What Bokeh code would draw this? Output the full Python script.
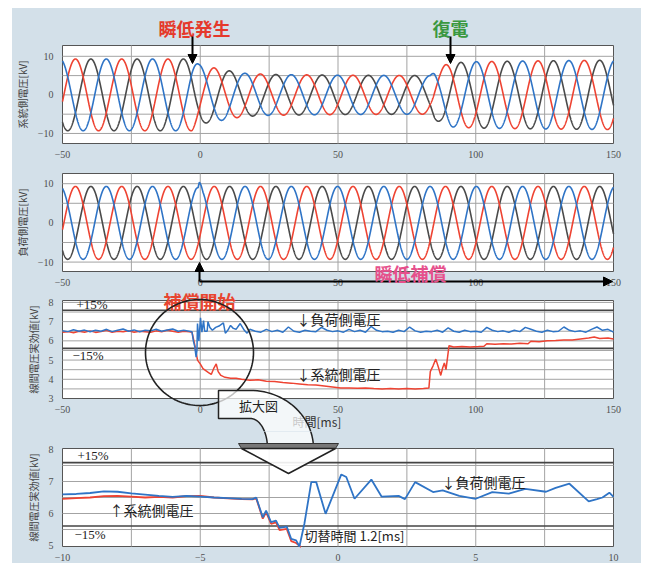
import re
import numpy as np
from bokeh.plotting import figure
from bokeh.models import (FixedTicker, Label, Arrow, NormalHead, PolyAnnotation, BoxAnnotation, Spacer)
from bokeh.layouts import column, row
from bokeh.embed import file_html
from bokeh.resources import INLINE

# ---------------- data ----------------
# three-phase waveforms (time in ms, voltage in kV)
PERIOD_MS = 16.79          # spacing of successive peaks of one phase
RED_PEAK_MS = -45.3        # first peak of the red phase
# system side: peak-voltage envelope (sag at ~-3 ms, recovery at ~84 ms)
sys_env_t = [-50, -3, -0.5, 2, 5, 10, 16, 25, 50, 83.5, 85, 87, 89, 91, 100, 120, 150]
sys_env_v = [9.3, 9.3, 7.9, 7.3, 7.0, 6.3, 5.6, 5.3, 5.1, 5.0, 6.5, 7.0, 7.8, 8.3, 8.6, 8.8, 9.0]
# load side: constant peak, small spike on the blue phase at switching
load_env_t = [-50, 150]
load_env_v = [9.3, 9.3]
load_blue_spike_t = [-1.5, -0.8, -0.3, 0.3, 1.0]
load_blue_spike_f = [1.0, 0.97, 1.12, 1.08, 1.0]

wave_xticks = [-50, 0, 50, 100, 150]
wave_yticks = [-10, 0, 10]

# RMS panel (-50..150 ms)
rms_load_t = [-50, -48, -46, -44, -42, -40, -38, -36, -34, -32, -30, -28, -26, -24, -22, -20,
              -18, -16, -14, -12, -10, -8, -6, -4, -3, -2.5, -2, -1.5, -1.2, -1, -0.5, 0.1,
              0.6, 1.2, 1.6, 2.5, 2.8, 3.5, 4.4, 5.6, 6.8, 8.4, 9.1, 10, 11, 12, 13, 14.5, 16,
              17, 18, 20, 22, 24, 26, 28, 30, 32, 34, 36, 38, 40, 42, 44, 46, 48, 50, 52, 54,
              56, 58, 60, 62, 64, 66, 68, 70, 72, 74, 76, 78, 80, 82, 84, 86, 88, 90, 92, 94,
              96, 98, 100, 102, 104, 106, 108, 110, 112, 114, 116, 118, 120, 122, 124, 126,
              128, 130, 132, 134, 136, 138, 140, 142, 144, 146, 148, 150]
rms_load_v = [6.52, 6.48, 6.58, 6.50, 6.56, 6.47, 6.55, 6.50, 6.60, 6.48, 6.55, 6.62, 6.50,
              6.57, 6.47, 6.55, 6.52, 6.60, 6.50, 6.56, 6.62, 6.50, 6.55, 6.50, 6.47, 6.0,
              5.7, 5.15, 5.5, 6.9, 6.0, 7.2, 6.45, 7.05, 6.5, 6.5, 7.0, 6.7, 6.55, 6.7, 6.77,
              6.93, 6.4, 6.55, 6.8, 6.65, 6.6, 6.9, 6.55, 6.4, 6.6, 6.5, 6.45, 6.6, 6.48,
              6.55, 6.45, 6.72, 6.5, 6.45, 6.55, 6.5, 6.48, 6.7, 6.55, 6.48, 6.52, 6.45, 6.6,
              6.48, 6.55, 6.45, 6.75, 6.55, 6.48, 6.5, 6.45, 6.55, 6.48, 6.72, 6.52, 6.45,
              6.5, 6.48, 6.55, 6.45, 6.68, 6.5, 6.45, 6.55, 6.48, 6.5, 6.45, 6.7, 6.55, 6.48,
              6.52, 6.45, 6.55, 6.48, 6.7, 6.6, 6.5, 6.45, 6.55, 6.48, 6.5, 6.72, 6.55, 6.48,
              6.52, 6.45, 6.6, 6.72, 6.55, 6.6, 6.45]
rms_sys_t = [-50, -48, -46, -44, -42, -40, -38, -36, -34, -32, -30, -28, -26, -24, -22, -20,
             -18, -16, -14, -12, -10, -8, -6, -4, -3, -2, -1.5, -1, 0, 1, 2, 3, 4, 5, 5.8,
             6.5, 7.5, 9, 11, 13, 15, 18, 21, 24, 27, 30, 33, 36, 39, 42, 45, 48, 51, 54, 57,
             60, 63, 66, 69, 72, 75, 78, 81, 83, 83.5, 84.5, 85.5, 86.5, 87.3, 88, 88.6, 89.2,
             90.3, 92, 95, 98, 101, 103, 104, 107, 110, 113, 116, 119, 120, 123, 126, 129,
             132, 135, 138, 141, 143, 145, 148, 150]
rms_sys_v = [6.45, 6.48, 6.42, 6.50, 6.45, 6.52, 6.44, 6.48, 6.55, 6.45, 6.50, 6.47, 6.52,
             6.45, 6.50, 6.48, 6.45, 6.52, 6.47, 6.55, 6.50, 6.45, 6.50, 6.47, 6.45, 5.8, 5.4,
             5.0, 4.8, 4.55, 4.45, 4.35, 4.25, 4.6, 4.8, 4.4, 4.2, 4.1, 4.05, 4.05, 4.0, 3.95,
             3.97, 3.9, 3.88, 3.83, 3.8, 3.76, 3.72, 3.7, 3.65, 3.6, 3.55, 3.55, 3.53, 3.55,
             3.52, 3.5, 3.52, 3.5, 3.52, 3.5, 3.52, 3.55, 4.4, 4.7, 5.05, 4.6, 4.2, 4.6, 4.85,
             4.5, 5.75, 5.68, 5.7, 5.68, 5.7, 5.72, 5.85, 5.82, 5.85, 5.83, 5.87, 5.85, 5.98,
             5.95, 6.0, 6.02, 6.05, 6.05, 6.1, 6.15, 6.2, 6.12, 6.15, 6.1]
rms_xticks = [-50, 0, 50, 100, 150]
rms_yticks = [3, 4, 5, 6, 7, 8]

# enlarged view (-10..10 ms)
zoom_load_t = [-10, -9.5, -9, -8.5, -8, -7.5, -7, -6.5, -6, -5.5, -5, -4.5, -4, -3.5, -3.1,
               -2.97, -2.73, -2.61, -2.43, -2.25, -2.12, -1.86, -1.70, -1.52, -1.40, -1.22,
               -0.97, -0.79, -0.45, 0.12, 0.30, 0.60, 1.21, 1.58, 2.20, 2.43, 2.80, 3.45,
               3.80, 4.40, 5.00, 5.60, 6.20, 6.80, 7.55, 7.90, 8.40, 9.10, 9.40, 9.60, 9.85, 10.0]
zoom_load_v = [6.60, 6.61, 6.64, 6.69, 6.68, 6.63, 6.59, 6.55, 6.52, 6.55, 6.53, 6.50, 6.48,
               6.46, 6.45, 6.50, 5.88, 6.09, 5.73, 5.78, 5.55, 5.59, 5.21, 5.16, 4.97, 5.68,
               6.98, 6.98, 5.99, 7.22, 7.14, 6.46, 7.06, 6.53, 6.55, 6.45, 6.98, 6.67, 6.72,
               6.55, 6.46, 6.67, 6.62, 6.77, 6.68, 6.80, 6.93, 6.38, 6.45, 6.50, 6.65, 6.52]
zoom_sys_t = [-10, -9.5, -9, -8.5, -8, -7.5, -7, -6.5, -6, -5.5, -5, -4.5, -4, -3.5, -3.1,
              -2.97, -2.73, -2.61, -2.43, -2.25, -2.12, -1.86, -1.70, -1.52, -1.34]
zoom_sys_v = [6.46, 6.48, 6.50, 6.54, 6.55, 6.53, 6.50, 6.52, 6.50, 6.54, 6.55, 6.50, 6.47,
              6.45, 6.44, 6.48, 5.84, 6.04, 5.68, 5.72, 5.48, 5.52, 5.14, 5.08, 4.95]
zoom_xticks = [-10, -5, 0, 5, 10]
zoom_yticks = [5, 6, 7, 8]

NOMINAL_KV = 6.6
TOLERANCE = 0.15

# ---------------- styling / geometry ----------------
BG = "#d3e0e9"
RED = "#ee4332"
BLUE = "#2f74c6"
BLACK = "#4a4a4a"
GRID = "#a3a3a3"
JP = "Noto Sans CJK JP"
SERIF = "Liberation Serif"

CANVAS_L, CANVAS_W = 12, 629      # page x of the blue card and its width
PANEL_L, PANEL_R = 62, 613        # page x of the plot panels' frames


class Panel:
    """A figure whose frame covers its whole canvas; the white plot panel is drawn inside."""

    def __init__(self, top, height, ptop, pbottom, xr, yr, xticks, yticks, xgrid, ygrid, ylabel):
        self.top, self.height = top, height
        xa, xb = xr
        ya, yb = yr
        kx = (xb - xa) / (PANEL_R - PANEL_L)
        ky = (yb - ya) / (pbottom - ptop)
        self.xs = xa - (PANEL_L - CANVAS_L) * kx
        self.xe = xb + (CANVAS_L + CANVAS_W - PANEL_R) * kx
        self.ys = ya - (top + height - pbottom) * ky
        self.ye = yb + (ptop - top) * ky
        p = figure(width=CANVAS_W, height=height, x_range=(self.xs, self.xe),
                   y_range=(self.ys, self.ye), output_backend="svg", toolbar_location=None,
                   min_border=0, min_border_left=0, min_border_right=0,
                   min_border_top=0, min_border_bottom=0)
        p.background_fill_color = BG
        p.border_fill_color = BG
        p.outline_line_color = None
        p.xgrid.visible = False
        p.ygrid.visible = False
        # white plot panel with its frame
        p.add_layout(BoxAnnotation(left=xa, right=xb, bottom=ya, top=yb, fill_color="white",
                                   fill_alpha=1.0, line_color="#555555", line_alpha=1.0,
                                   line_width=1, level="underlay"))
        # grid lines limited to the panel
        gx = [g for g in xgrid if xa < g < xb]
        gy = [g for g in ygrid if ya < g < yb]
        p.segment(x0=gx, y0=[ya] * len(gx), x1=gx, y1=[yb] * len(gx), line_color=GRID, line_width=1)
        p.segment(x0=[xa] * len(gy), y0=gy, x1=[xb] * len(gy), y1=gy, line_color=GRID, line_width=1)
        # axes pinned to the panel edges
        p.xaxis.fixed_location = ya
        p.yaxis.fixed_location = xa
        p.xaxis.bounds = (xa, xb)
        p.yaxis.bounds = (ya, yb)
        p.xaxis.ticker = FixedTicker(ticks=xticks)
        p.yaxis.ticker = FixedTicker(ticks=yticks)
        for ax in (p.xaxis, p.yaxis):
            ax.axis_line_color = None
            ax.major_tick_line_color = None
            ax.minor_tick_line_color = None
            ax.major_label_text_font = SERIF
            ax.major_label_text_font_size = "10px"
            ax.major_label_text_color = "#505050"
        p.xaxis.major_label_standoff = 1
        p.yaxis.major_label_standoff = 3
        p.yaxis.axis_label = ylabel
        p.yaxis.axis_label_text_font = JP
        p.yaxis.axis_label_text_font_size = "10px"
        p.yaxis.axis_label_text_font_style = "normal"
        p.yaxis.axis_label_text_color = "#444444"
        p.yaxis.axis_label_standoff = 5
        self.p = p
        self.xr, self.yr = xr, yr

    def fx(self, px):
        return self.xs + (np.asarray(px, dtype=float) - CANVAS_L) / CANVAS_W * (self.xe - self.xs)

    def fy(self, py):
        return self.ye - (np.asarray(py, dtype=float) - self.top) / self.height * (self.ye - self.ys)

    def hline(self, level, color="#444444", width=1.6):
        self.p.segment(x0=[self.xr[0]], y0=[level], x1=[self.xr[1]], y1=[level],
                       line_color=color, line_width=width)

    def label(self, px, py, text, size, color="#222222", bold=False, align="center", font=JP):
        self.p.add_layout(Label(x=float(self.fx(px)), y=float(self.fy(py)), text=text,
                                text_align=align, text_baseline="middle", text_font=font,
                                text_font_size=size, text_color=color,
                                text_font_style="bold" if bold else "normal"))

    def arrow(self, p0, p1, head=True, width=2):
        self.p.add_layout(Arrow(end=NormalHead(size=9, fill_color="black", line_color="black") if head else None,
                                x_start=float(self.fx(p0[0])), y_start=float(self.fy(p0[1])),
                                x_end=float(self.fx(p1[0])), y_end=float(self.fy(p1[1])),
                                line_color="black", line_width=width))

    def poly(self, pxs, pys, fill="white", alpha=1.0, line="#222222", lw=1.5):
        self.p.add_layout(PolyAnnotation(xs=list(self.fx(pxs)), ys=list(self.fy(pys)),
                                         fill_color=fill, fill_alpha=alpha, line_color=line,
                                         line_alpha=1.0, line_width=lw))


# ---------------- waveforms ----------------
t = np.linspace(-50, 150, 4001)


def phase(env_t, env_v, shift, factor=None):
    amp = np.interp(t, env_t, env_v)
    if factor is not None:
        amp = amp * factor
    return amp * np.cos(2 * np.pi * (t - RED_PEAK_MS - shift) / PERIOD_MS)


shifts = {"red": 0.0, "black": PERIOD_MS / 3, "blue": 2 * PERIOD_MS / 3}
colors = {"red": RED, "black": BLACK, "blue": BLUE}

wave_xr = (-50, 150)
wave_grid_x = [-25, 0, 25, 50, 75, 100, 125]
wave_grid_y = [-10, -5, 0, 5, 10]

# Panel 1: system side voltage
P1 = Panel(8, 153, 45, 143, wave_xr, (-12.6, 12.8), wave_xticks, wave_yticks,
           wave_grid_x, wave_grid_y, "系統側電圧[kV]")
for ph in ["black", "red", "blue"]:
    P1.p.line(t, phase(sys_env_t, sys_env_v, shifts[ph]), line_color=colors[ph], line_width=1.6)
P1.label(194, 27, "瞬低発生", "18px", "#e5392b", True)
P1.arrow((192, 36), (192, 63))
P1.label(450, 27, "復電", "18px", "#3a983f", True)
P1.arrow((450, 36), (450, 63))

# Panel 2: load side voltage
P2 = Panel(161, 126, 173, 271, wave_xr, (-12.4, 12.6), wave_xticks, wave_yticks,
           wave_grid_x, wave_grid_y, "負荷側電圧[kV]")
spike = np.interp(t, load_blue_spike_t, load_blue_spike_f)
for ph in ["black", "red", "blue"]:
    P2.p.line(t, phase(load_env_t, load_env_v, shifts[ph], spike if ph == "blue" else None),
              line_color=colors[ph], line_width=1.6)
P2.arrow((199, 281), (199, 262))
P2.arrow((199, 281), (612, 281))
P2.label(410, 272, "瞬低補償", "18px", "#e6508c", True)

# Panel 3: RMS values
P3 = Panel(287, 144, 300, 398, wave_xr, (3.0, 8.1), rms_xticks, rms_yticks, wave_grid_x,
           [3.5, 4, 4.5, 5, 5.5, 6, 6.5, 7, 7.5, 8], "線間電圧実効値[kV]")
for lvl in (NOMINAL_KV * (1 + TOLERANCE), NOMINAL_KV * (1 - TOLERANCE)):
    P3.hline(lvl)
P3.p.line(rms_sys_t, rms_sys_v, line_color=RED, line_width=1.5)
P3.p.line(rms_load_t, rms_load_v, line_color=BLUE, line_width=1.5)
P3.label(76, 304, "+15%", "13px", "#222222", False, "left", SERIF)
P3.label(72, 355, "−15%", "13px", "#222222", False, "left", SERIF)
P3.label(296, 318, "↓負荷側電圧", "14px", "#222222", False, "left")
P3.label(296, 373, "↓系統側電圧", "14px", "#222222", False, "left")
P3.label(199, 300, "補償開始", "18px", "#e8452f", True)
P3.label(292, 421, "時間[ms]", "12px", "#333333", False, "left")
th = np.linspace(0, 2 * np.pi, 160)
P3.poly(199 + 54 * np.cos(th), 352 + 53 * np.sin(th), alpha=0.0, lw=1.6)

# big "enlarged view" arrow (page coordinates), drawn in panels 3 and 4
a_out = np.linspace(-np.pi / 2, 0, 30)
a_in = np.linspace(0, -np.pi / 2, 30)
band_x = [218, 250] + list(250 + 63 * np.cos(a_out)) + list(250 + 17 * np.cos(a_in)) + [250, 218]
band_y = [390, 390] + list(448 + 58 * np.sin(a_out)) + list(448 + 30 * np.sin(a_in)) + [418, 418]
P3.poly(band_x, band_y, alpha=0.72)
P3.label(258, 405, "拡大図", "13px", "#222222")

# Panel 4: enlarged view
P4 = Panel(431, 132, 448, 546, (-10, 10), (4.97, 8.03), zoom_xticks, zoom_yticks,
           [-7.5, -5, -2.5, 0, 2.5, 5, 7.5], [5.5, 6, 6.5, 7, 7.5], "線間電圧実効値[kV]")
for lvl in (NOMINAL_KV * (1 + TOLERANCE), NOMINAL_KV * (1 - TOLERANCE)):
    P4.hline(lvl)
P4.p.line(zoom_sys_t, zoom_sys_v, line_color=RED, line_width=1.8)
P4.p.line(zoom_load_t, zoom_load_v, line_color=BLUE, line_width=1.8)
P4.poly(band_x, band_y, alpha=0.72)
P4.poly([238, 338, 335, 241], [443, 443, 448, 448], fill="#777777", line="#333333", lw=1)
P4.poly([241, 335, 288], [448, 448, 473], alpha=0.9)
P4.label(77, 455, "+15%", "13px", "#222222", False, "left", SERIF)
P4.label(74, 534, "−15%", "13px", "#222222", False, "left", SERIF)
P4.label(109, 509, "↑系統側電圧", "14px", "#222222", False, "left")
P4.label(441, 481, "↓負荷側電圧", "14px", "#222222", False, "left")
P4.label(304, 535, "切替時間 1.2[ms]", "13px", "#222222", False, "left")

stack = column(P1.p, P2.p, P3.p, P4.p, styles={"background-color": BG})
layout = column(Spacer(width=641, height=8), row(Spacer(width=12, height=555), stack))
html = file_html(layout, INLINE)
html = re.sub(r"<body[^>]*>", '<body style="margin:0;padding:0">', html, count=1)
open("out.html", "w").write(html)
